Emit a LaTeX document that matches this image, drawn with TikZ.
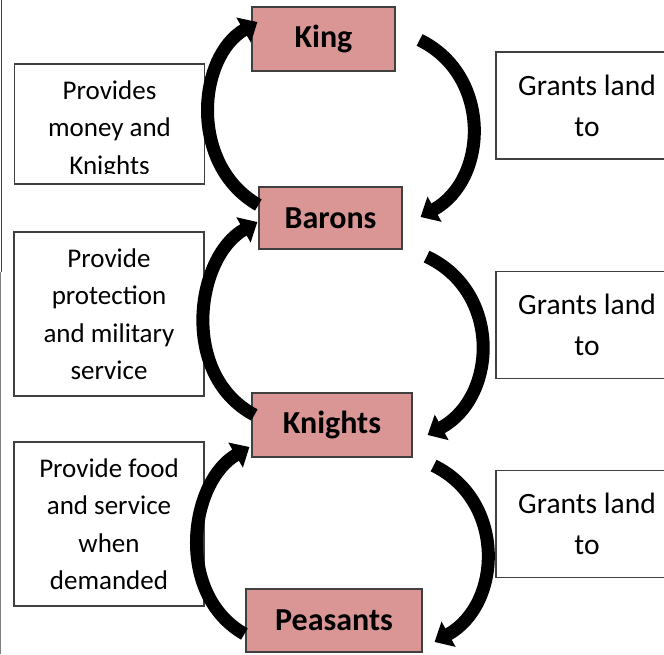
\documentclass[tikz,border=0pt]{standalone}
\usepackage{fontspec}
\setmainfont{Carlito}
\usetikzlibrary{arrows.meta, calc}
\definecolor{rankpink}{RGB}{217,150,148}
\definecolor{rankline}{RGB}{64,64,64}

\begin{document}
\begin{tikzpicture}[x=0.5pt, y=0.5pt, >={Triangle[length=8pt, width=14pt]},
  rank/.style={draw=rankline, line width=0.6pt, fill=rankpink, inner sep=0pt,
    font=\fontsize{16}{19}\selectfont\bfseries},
  duty/.style={draw=rankline, line width=0.6pt, inner sep=0pt, minimum width=95pt,
    minimum height=82pt, align=center, font=\fontsize{13.5}{18.75}\selectfont},
  grant/.style={draw=rankline, line width=0.6pt, inner sep=0pt, minimum width=91pt,
    minimum height=53.5pt, align=center, font=\fontsize{14.75}{20.5}\selectfont},
  link/.style={->, line width=6.5pt}]
  \clip (0,0) rectangle (664,-654);
  % page edge
  \draw[rankline, line width=0.8pt] (1.5,0) -- (1.5,-272);
  \draw[gray, line width=0.8pt] (0.7,-272) -- (0.7,-654);

  % Ranks
  \node[rank, minimum width=71.5pt, minimum height=32pt] (king) at (323.5,-39) {King};
  \node[rank, minimum width=71.5pt, minimum height=31pt] (barons) at (330.5,-218) {Barons};
  \node[rank, minimum width=80pt, minimum height=32pt] (knights) at (332,-425) {Knights};
  \node[rank, minimum width=88pt, minimum height=31.5pt] (peasants) at (334,-620.5) {Peasants};

  % What goes up
  \node[duty, minimum height=60pt] (money) at (109.5,-124) {};
  \begin{scope}
    \clip (14,-64) rectangle (205,-173);
    \node[align=center, font=\fontsize{13.5}{18.75}\selectfont] (moneytext) at (109.5,-129.5)
      {Provides\\money and\\Knights};
  \end{scope}
  \node[duty] (service) at (109,-314) {Provide\\protection\\and military\\service};
  \node[duty] (food) at (109,-524) {Provide food\\and service\\when\\demanded};

  % What goes down
  \node[grant] (land1) at (587,-105.5) {Grants land\\to};
  \node[grant] (land2) at (587,-325) {Grants land\\to};
  \node[grant] (land3) at (587,-524) {Grants land\\to};

  % Arrows up the left
  \draw[link] ($(barons.west)+(0,13)$) .. controls +(-70,40) and +(-60,-35) .. ($(king.west)+(6,17)$);
  \draw[link] ($(knights.west)+(3,10)$) .. controls +(-75,40) and +(-62,-35) .. ($(barons.west)+(-1,-4)$);
  \draw[link] ($(peasants.west)+(-1,-13.5)$) .. controls +(-70,40) and +(-60,-35) .. ($(knights.west)+(-2,-22)$);

  % Arrows down the right
  \draw[link] ($(king.east)+(24,-1)$) .. controls +(72,-35) and +(68,38) .. ($(barons.east)+(18,1)$);
  \draw[link] ($(barons.south east)+(24,-7)$) .. controls +(75,-35) and +(70,38) .. ($(knights.east)+(15,-10)$);
  \draw[link] ($(knights.south east)+(21,-8)$) .. controls +(72,-35) and +(68,38) .. ($(peasants.east)+(12,-21.5)$);
\end{tikzpicture}
\end{document}
